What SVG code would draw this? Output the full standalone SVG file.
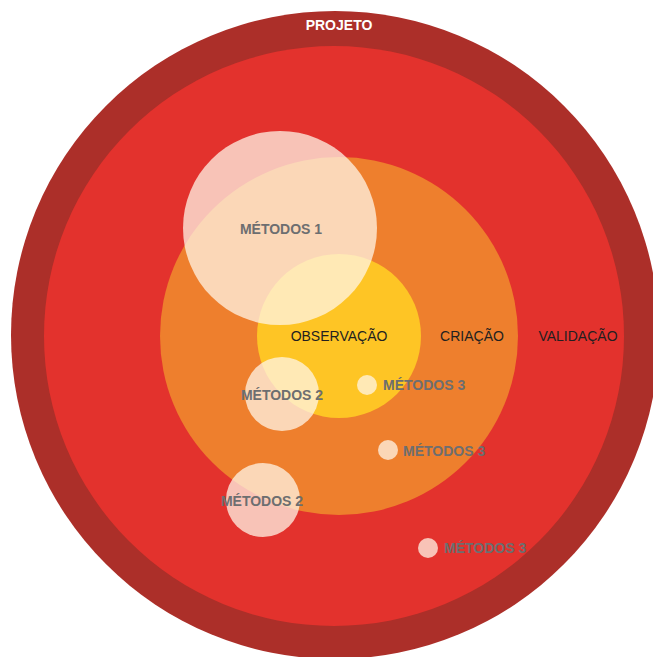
<svg xmlns="http://www.w3.org/2000/svg" width="653" height="657" viewBox="0 0 653 657">
  <style>
    .lbl { font-family: "Liberation Sans", Arial, sans-serif; font-size: 14px; }
    .dark { fill: #231F20; }
    .method { fill: #6D6E70; font-weight: bold; }
    .bubble { fill: #FFF6E8; fill-opacity: 0.74; }
  </style>
  <rect width="653" height="657" fill="#FFFFFF"/>

  <g id="projeto">
    <circle cx="335" cy="335" r="324" fill="#AC2F29"/>
    <text class="lbl" x="339" y="30" text-anchor="middle" fill="#FFFFFF" font-weight="bold">PROJETO</text>
  </g>

  <g id="validacao">
    <circle cx="334" cy="336" r="290" fill="#E3322D"/>
    <text class="lbl dark" x="578" y="341" text-anchor="middle">VALIDAÇÃO</text>
  </g>

  <g id="criacao">
    <circle cx="339" cy="336" r="179" fill="#EE7F2D"/>
    <text class="lbl dark" x="472" y="341" text-anchor="middle">CRIAÇÃO</text>
  </g>

  <g id="observacao">
    <circle cx="339" cy="336" r="82" fill="#FEC525"/>
    <text class="lbl dark" x="339" y="341" text-anchor="middle">OBSERVAÇÃO</text>
  </g>

  <g id="metodos-1">
    <circle class="bubble" cx="280" cy="228" r="97"/>
    <text class="lbl method" x="281" y="234" text-anchor="middle">MÉTODOS 1</text>
  </g>

  <g id="metodos-2a">
    <circle class="bubble" cx="282" cy="394" r="37"/>
    <text class="lbl method" x="282" y="400" text-anchor="middle">MÉTODOS 2</text>
  </g>

  <g id="metodos-2b">
    <circle class="bubble" cx="263" cy="500" r="37"/>
    <text class="lbl method" x="262" y="506" text-anchor="middle">MÉTODOS 2</text>
  </g>

  <g id="metodos-3a">
    <circle class="bubble" cx="367" cy="385" r="10"/>
    <text class="lbl method" x="383" y="390">MÉTODOS 3</text>
  </g>

  <g id="metodos-3b">
    <circle class="bubble" cx="388" cy="450" r="10"/>
    <text class="lbl method" x="403" y="456">MÉTODOS 3</text>
  </g>

  <g id="metodos-3c">
    <circle class="bubble" cx="428" cy="548" r="10"/>
    <text class="lbl method" x="444" y="553">MÉTODOS 3</text>
  </g>

  <g id="connectors"/>
</svg>
